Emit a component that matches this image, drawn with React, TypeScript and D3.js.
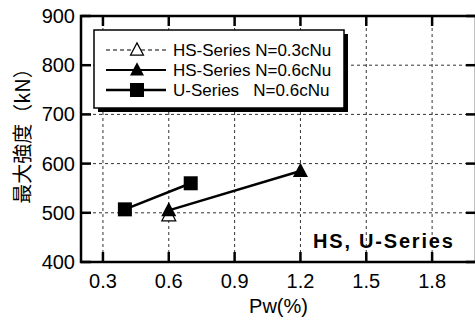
import { scaleLinear, line } from "d3";

// Pw (%) tick values and strength ticks (kN)
const xTicks = [0.3, 0.6, 0.9, 1.2, 1.5, 1.8];
const yTicks = [400, 500, 600, 700, 800, 900];

// HS-Series N=0.3cNu
const hs03Pw = [0.6];
const hs03P = [495];
// HS-Series N=0.6cNu
const hs06Pw = [0.6, 1.2];
const hs06P = [505, 585];
// U-Series N=0.6cNu
const uPw = [0.4, 0.7];
const uP = [507, 560];

const legendLabels = ["HS-Series N=0.3cNu", "HS-Series N=0.6cNu", "U-Series   N=0.6cNu"];

const W = 475;
const H = 321;
const left = 81;
const right = 476;
const top = 16;
const bottom = 262;

const font = "'Liberation Sans', Arial, sans-serif";

const tri = (cx: number, cy: number, s: number) =>
  `M${cx},${cy - s * 0.55}L${cx + s / 2},${cy + s * 0.4}L${cx - s / 2},${cy + s * 0.4}Z`;

export default function App() {
  const x = scaleLinear().domain([0.2, 2.0]).range([left, right]);
  const y = scaleLinear().domain([400, 900]).range([bottom, top]);

  const path = line<[number, number]>()
    .x((d) => x(d[0]))
    .y((d) => y(d[1]));

  const zip = (a: number[], b: number[]) => a.map((v, i) => [v, b[i]] as [number, number]);

  const rows = [50, 70, 90];

  return (
    <svg width={W} height={H} style={{ position: "absolute", left: 0, top: 0 }} fontFamily={font}>
      <rect width={W} height={H} fill="#fff" />

      {/* grid */}
      {xTicks.map((t) => (
        <line key={"gx" + t} x1={x(t)} x2={x(t)} y1={top} y2={bottom} stroke="#333" strokeWidth={1} strokeDasharray="3,3" />
      ))}
      {yTicks.slice(1, -1).map((t) => (
        <line key={"gy" + t} x1={left} x2={right} y1={y(t)} y2={y(t)} stroke="#333" strokeWidth={1} strokeDasharray="3,3" />
      ))}

      {/* series lines */}
      <path d={path(zip(hs06Pw, hs06P)) || ""} fill="none" stroke="#000" strokeWidth={2.5} />
      <path d={path(zip(uPw, uP)) || ""} fill="none" stroke="#000" strokeWidth={2.5} />

      {/* markers */}
      {zip(hs03Pw, hs03P).map((d, i) => (
        <path key={"o" + i} d={tri(x(d[0]), y(d[1]), 14)} fill="#fff" stroke="#000" strokeWidth={1.2} />
      ))}
      {zip(hs06Pw, hs06P).map((d, i) => (
        <path key={"t" + i} d={tri(x(d[0]), y(d[1]), 15)} fill="#000" />
      ))}
      {zip(uPw, uP).map((d, i) => (
        <rect key={"s" + i} x={x(d[0]) - 7} y={y(d[1]) - 7} width={14} height={14} fill="#000" />
      ))}

      {/* legend */}
      <rect x={98} y={34} width={250} height={78} fill="#000" />
      <rect x={94} y={30} width={250} height={78} fill="#fff" stroke="#000" strokeWidth={1.5} />
      <line x1={106} x2={166} y1={rows[0]} y2={rows[0]} stroke="#000" strokeWidth={1.2} strokeDasharray="4,3" />
      <path d={tri(137, rows[0], 13)} fill="#fff" stroke="#000" strokeWidth={1.2} />
      <line x1={106} x2={166} y1={rows[1]} y2={rows[1]} stroke="#000" strokeWidth={1.8} />
      <path d={tri(137, rows[1], 14)} fill="#000" />
      <line x1={106} x2={166} y1={rows[2]} y2={rows[2]} stroke="#000" strokeWidth={2.5} />
      <rect x={130} y={rows[2] - 7} width={14} height={14} fill="#000" />
      {legendLabels.map((l, i) => (
        <text key={l} x={173} y={rows[i] + 6} fontSize={17} fill="#000" style={{ whiteSpace: "pre" }}>
          {l}
        </text>
      ))}

      {/* annotation */}
      <text x={313} y={248} fontSize={20} fontWeight="bold" letterSpacing={1.8} fill="#000">
        HS, U-Series
      </text>

      {/* frame and ticks */}
      <rect x={left} y={top} width={right - left} height={bottom - top} fill="none" stroke="#000" strokeWidth={2.5} />
      {xTicks.map((t) => (
        <g key={"tx" + t}>
          <line x1={x(t)} x2={x(t)} y1={bottom} y2={bottom - 10} stroke="#000" strokeWidth={2.5} />
          <line x1={x(t)} x2={x(t)} y1={top} y2={top + 10} stroke="#000" strokeWidth={2.5} />
          <text x={x(t)} y={bottom + 26} fontSize={20} textAnchor="middle" fill="#000">
            {t.toFixed(1)}
          </text>
        </g>
      ))}
      {yTicks.map((t) => (
        <g key={"ty" + t}>
          <line x1={left} x2={left + 10} y1={y(t)} y2={y(t)} stroke="#000" strokeWidth={2.5} />
          <line x1={right - 10} x2={right} y1={y(t)} y2={y(t)} stroke="#000" strokeWidth={2.5} />
          <text x={75} y={y(t) + 7} fontSize={20} textAnchor="end" fill="#000">
            {t}
          </text>
        </g>
      ))}

      {/* axis titles */}
      <text x={(left + right) / 2} y={313} fontSize={20} textAnchor="middle" fill="#000">
        Pw(%)
      </text>
      <text
        transform={`translate(29.5,131) rotate(-90)`}
        fontSize={20}
        textAnchor="middle"
        fill="#000"
        fontFamily="'Noto Sans CJK JP', sans-serif"
      >
        最大強度（kN）
      </text>
    </svg>
  );
}
